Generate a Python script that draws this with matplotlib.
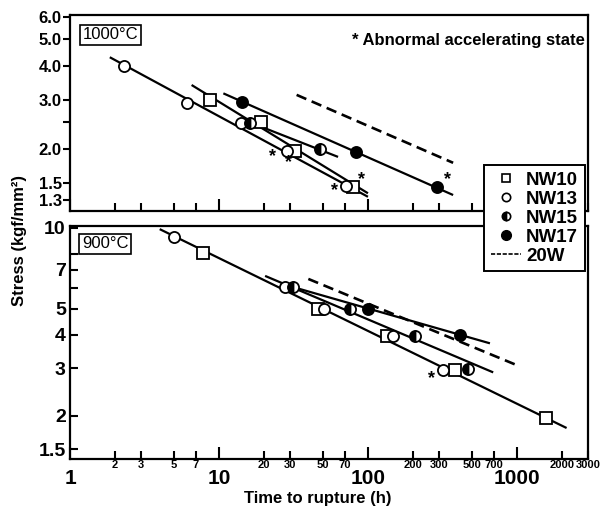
import matplotlib
matplotlib.use("Agg")
import matplotlib.pyplot as plt
from matplotlib.ticker import FixedLocator, FixedFormatter, NullLocator
from matplotlib.lines import Line2D

plt.rcParams['font.family'] = ['Liberation Sans', 'DejaVu Sans']
plt.rcParams['font.weight'] = 'bold'

# ---- 1000 C data (time h, stress kgf/mm2) ----
nw10_t_1000 = [8.7, 19, 32.4, 79]
nw10_s_1000 = [3.0, 2.5, 1.97, 1.46]
nw13_t_1000 = [2.3, 6.1, 14, 28.7, 71.5]
nw13_s_1000 = [4.0, 2.94, 2.48, 1.97, 1.47]
nw15_t_1000 = [16.1, 47.6]
nw15_s_1000 = [2.48, 2.0]
nw17_t_1000 = [14.2, 83, 289]
nw17_s_1000 = [2.96, 1.95, 1.46]

# fitted lines (start, end)
fit10_t_1000 = [6.55, 100]
fit10_s_1000 = [3.41, 1.38]
fit13_t_1000 = [1.85, 100]
fit13_s_1000 = [4.3, 1.34]
fit15_t_1000 = [16, 63]
fit15_s_1000 = [2.5, 1.87]
fit17_t_1000 = [10.7, 373]
fit17_s_1000 = [3.18, 1.36]
w20_t_1000 = [33.2, 373]
w20_s_1000 = [3.14, 1.78]

abn_t_1000 = [23, 29.5, 60, 90.7, 344]
abn_s_1000 = [1.87, 1.78, 1.41, 1.55, 1.55]

# ---- 900 C data ----
nw10_t_900 = [7.85, 46.4, 133.5, 383, 1560]
nw10_s_900 = [8.09, 5.0, 3.97, 2.97, 1.96]
nw13_t_900 = [4.99, 27.7, 50.9, 147.8, 318]
nw13_s_900 = [9.28, 6.05, 5.0, 3.97, 2.97]
nw15_t_900 = [31.5, 75.7, 207.6, 471]
nw15_s_900 = [6.05, 5.0, 3.97, 2.98]
nw17_t_900 = [99.5, 412]
nw17_s_900 = [5.0, 3.98]

fit1013_t_900 = [4.0, 2155]
fit1013_s_900 = [9.9, 1.80]
fit15_t_900 = [20.4, 693]
fit15_s_900 = [6.63, 2.90]
fit17_t_900 = [34, 659]
fit17_s_900 = [5.95, 3.72]
w20_t_900 = [39.8, 1020]
w20_s_900 = [6.46, 3.07]

abn_t_900 = [267.6]
abn_s_900 = [2.76]

x_major = [1, 10, 100, 1000]
x_minor = [2, 3, 5, 7, 20, 30, 50, 70, 200, 300, 500, 700, 2000, 3000]
x_minor_labels = ['2', '3', '5', '7', '20', '30', '50', '70',
                  '200', '300', '500', '700', '2000', '3000']

y_ticks_1000 = [1.3, 1.5, 2.0, 2.5, 3.0, 4.0, 5.0, 6.0]
y_labels_1000 = ['1.3', '1.5', '2.0', '', '3.0', '4.0', '5.0', '6.0']
y_ticks_900 = [1.5, 2, 3, 4, 5, 6, 7, 8, 10]
y_labels_900 = ['1.5', '2', '3', '4', '5', '', '7', '', '10']

fig = plt.figure(figsize=(6.05, 5.14), dpi=100)
ax1 = fig.add_axes([70 / 605, 1 - 211 / 514, 518 / 605, 196 / 514])
ax2 = fig.add_axes([70 / 605, 1 - 459 / 514, 518 / 605, 233 / 514])

LW = 1.6
line_kw = dict(color='black', lw=LW, zorder=2, solid_capstyle='butt')
dash_kw = dict(color='black', lw=LW + 0.3, ls=(0, (4, 2.2)), zorder=2)
mk = dict(ls='none', ms=8, mec='black', mew=1.3, zorder=4)


def draw_points(ax, t10, s10, t13, s13, t15, s15, t17, s17):
    ax.plot(t10, s10, marker='s', mfc='white', **mk)
    ax.plot(t13, s13, marker='o', mfc='white', **mk)
    ax.plot(t15, s15, marker='o', mfc='black', fillstyle='left',
            markerfacecoloralt='white', **mk)
    ax.plot(t17, s17, marker='o', mfc='black', **mk)


# top panel
ax1.plot(fit13_t_1000, fit13_s_1000, **line_kw)
ax1.plot(fit10_t_1000, fit10_s_1000, **line_kw)
ax1.plot(fit15_t_1000, fit15_s_1000, **line_kw)
ax1.plot(fit17_t_1000, fit17_s_1000, **line_kw)
ax1.plot(w20_t_1000, w20_s_1000, **dash_kw)
draw_points(ax1, nw10_t_1000, nw10_s_1000, nw13_t_1000, nw13_s_1000,
            nw15_t_1000, nw15_s_1000, nw17_t_1000, nw17_s_1000)
for t, s in zip(abn_t_1000, abn_s_1000):
    ax1.text(t, s, '*', ha='center', va='center', fontsize=13, zorder=5)

# bottom panel
ax2.plot(fit1013_t_900, fit1013_s_900, **line_kw)
ax2.plot(fit15_t_900, fit15_s_900, **line_kw)
ax2.plot(fit17_t_900, fit17_s_900, **line_kw)
ax2.plot(w20_t_900, w20_s_900, **dash_kw)
draw_points(ax2, nw10_t_900, nw10_s_900, nw13_t_900, nw13_s_900,
            nw15_t_900, nw15_s_900, nw17_t_900, nw17_s_900)
for t, s in zip(abn_t_900, abn_s_900):
    ax2.text(t, s, '*', ha='center', va='center', fontsize=13, zorder=5)

for ax in (ax1, ax2):
    ax.set_xscale('log')
    ax.set_yscale('log')
    ax.set_xlim(1, 3000)
    ax.xaxis.set_major_locator(FixedLocator(x_major))
    ax.xaxis.set_minor_locator(FixedLocator(x_minor))
    ax.yaxis.set_minor_locator(NullLocator())
    ax.tick_params(axis='x', which='major', direction='in', length=9, width=1.5)
    ax.tick_params(axis='x', which='minor', direction='in', length=6, width=1.5)
    for sp in ax.spines.values():
        sp.set_linewidth(1.6)

ax1.set_ylim(1.19, 6.12)
ax1.yaxis.set_major_locator(FixedLocator(y_ticks_1000))
ax1.yaxis.set_major_formatter(FixedFormatter(y_labels_1000))
ax1.tick_params(axis='y', direction='out', length=5, width=1.5, labelsize=12, pad=1)
ax1.tick_params(axis='x', which='both', labelbottom=False)

ax2.set_ylim(1.38, 10.17)
ax2.yaxis.set_major_locator(FixedLocator(y_ticks_900))
ax2.yaxis.set_major_formatter(FixedFormatter(y_labels_900))
ax2.tick_params(axis='y', direction='in', length=6, width=1.5, labelsize=14, pad=3)
ax2.xaxis.set_major_formatter(FixedFormatter(['1', '10', '100', '1000']))
ax2.xaxis.set_minor_formatter(FixedFormatter(x_minor_labels))
ax2.tick_params(axis='x', which='major', labelsize=15, pad=7.5)
ax2.tick_params(axis='x', which='minor', labelsize=8, pad=1)

box = dict(boxstyle='square,pad=0.15', fc='white', ec='black', lw=1.2)
ax1.text(0.025, 0.90, '1000°C', transform=ax1.transAxes, ha='left', va='center',
         fontsize=12, fontweight='normal', bbox=box)
ax2.text(0.023, 0.923, '900°C', transform=ax2.transAxes, ha='left', va='center',
         fontsize=12, fontweight='normal', bbox=box)
ax1.text(0.994, 0.872, '* Abnormal accelerating state', transform=ax1.transAxes,
         ha='right', va='center', fontsize=12)

fig.text(20 / 605, 1 - 240 / 514, 'Stress (kgf/mm²)', rotation=90,
         ha='center', va='center', fontsize=12)
fig.text(318 / 605, 1 - 499 / 514, 'Time to rupture (h)',
         ha='center', va='center', fontsize=12)

handles = [
    Line2D([], [], ls='none', marker='s', ms=6, mfc='white', mec='black', mew=1.2),
    Line2D([], [], ls='none', marker='o', ms=6, mfc='white', mec='black', mew=1.2),
    Line2D([], [], ls='none', marker='o', ms=6, mfc='black', fillstyle='left',
           markerfacecoloralt='white', mec='black', mew=1.2),
    Line2D([], [], ls='none', marker='o', ms=7, mfc='black', mec='black'),
    Line2D([], [], color='black', lw=1.2, ls=(0, (2.5, 1))),
]
leg = fig.legend(handles, ['NW10', 'NW13', 'NW15', 'NW17', '20W'],
                 loc='upper left', bbox_to_anchor=(484 / 605, 1 - 165 / 514),
                 borderaxespad=0, frameon=True, fancybox=False, edgecolor='black',
                 framealpha=1, fontsize=13.5, handlelength=1.6, handletextpad=0.3,
                 labelspacing=0.1, borderpad=0.35)
leg.get_frame().set_linewidth(1.4)
leg.set_zorder(10)

fig.savefig('out.png', dpi=100)
